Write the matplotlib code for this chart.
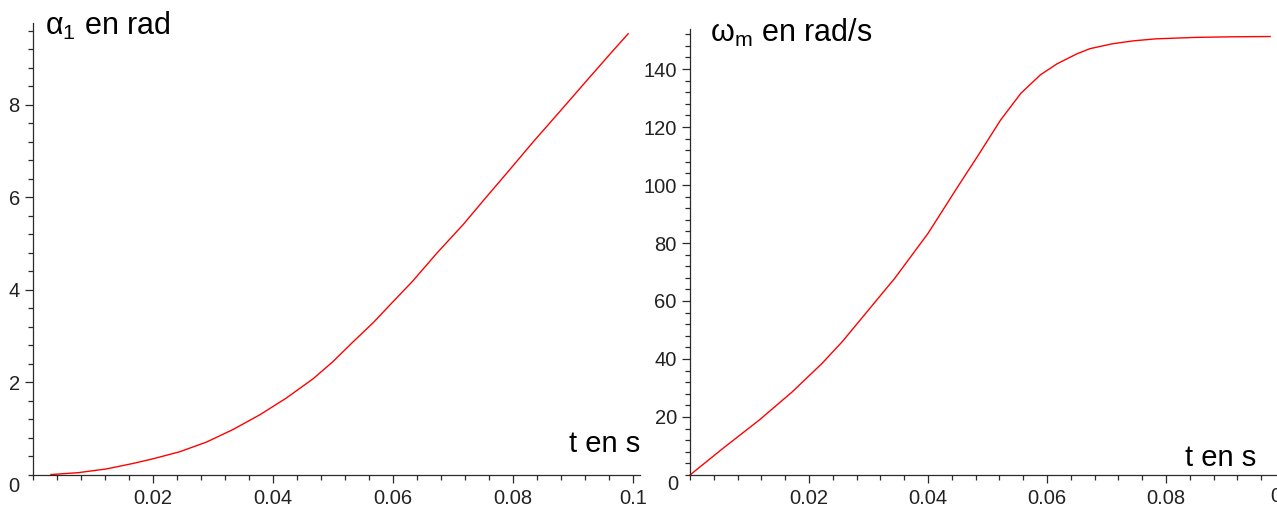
import matplotlib
matplotlib.use("Agg")
import matplotlib.pyplot as plt
from matplotlib.ticker import MultipleLocator, FixedLocator

plt.rcParams['font.family'] = ['Liberation Sans', 'DejaVu Sans']
plt.rcParams['mathtext.fontset'] = 'custom'
plt.rcParams['mathtext.rm'] = 'Liberation Sans'
plt.rcParams['mathtext.it'] = 'Liberation Sans'

# ---- data ----
t_alpha = [0.0030, 0.0075, 0.0122, 0.0167, 0.0200, 0.0244, 0.0289, 0.0333,
           0.0378, 0.0422, 0.0467, 0.0500, 0.0533, 0.0567, 0.0594, 0.0633,
           0.0673, 0.0717, 0.0756, 0.0789, 0.0834, 0.0878, 0.0923, 0.0967,
           0.0992]
alpha = [0.01, 0.05, 0.13, 0.25, 0.35, 0.50, 0.71, 0.98,
         1.30, 1.66, 2.08, 2.45, 2.87, 3.29, 3.66, 4.19,
         4.79, 5.41, 6.01, 6.51, 7.20, 7.85, 8.52, 9.17,
         9.53]

t_omega = [0.0, 0.00555, 0.01167, 0.0172, 0.0222, 0.0256, 0.0300, 0.0344,
           0.0400, 0.0450, 0.0483, 0.0522, 0.0556, 0.0589, 0.0617, 0.0650,
           0.0672, 0.0710, 0.0745, 0.0783, 0.0850, 0.0911, 0.0975]
omega = [0.0, 9.2, 19.0, 28.7, 38.5, 46.0, 56.9, 67.8,
         83.3, 99.4, 109.8, 122.4, 131.6, 138.0, 141.8, 145.2,
         147.0, 148.7, 149.7, 150.4, 150.9, 151.1, 151.2]

x_ticks = [0.02, 0.04, 0.06, 0.08, 0.1]
x_labels = ["0.02", "0.04", "0.06", "0.08", "0.1"]
alpha_ticks = [2, 4, 6, 8]
omega_ticks = [20, 40, 60, 80, 100, 120, 140]

W, H = 1277, 507
fig = plt.figure(figsize=(W / 100, H / 100), dpi=100)


def px_axes(x0, x1, ytop, ybot):
    return fig.add_axes([x0 / W, (H - ybot) / H, (x1 - x0) / W, (ybot - ytop) / H])


axc = '#2a2a2a'
tick_fs = 14.5


def style(ax, xmax, ymax, yticks, yminor):
    ax.set_xlim(0, xmax)
    ax.set_ylim(0, ymax)
    for s in ('top', 'right'):
        ax.spines[s].set_visible(False)
    for s in ('left', 'bottom'):
        ax.spines[s].set_color(axc)
        ax.spines[s].set_linewidth(0.9)
    ax.xaxis.set_major_locator(FixedLocator(x_ticks))
    ax.set_xticklabels(x_labels)
    ax.xaxis.set_minor_locator(MultipleLocator(0.004))
    ax.yaxis.set_major_locator(FixedLocator(yticks))
    ax.set_yticklabels([str(v) for v in yticks])
    ax.yaxis.set_minor_locator(MultipleLocator(yminor))
    ax.tick_params(which='major', length=6, width=0.9, color=axc,
                   labelsize=tick_fs, labelcolor='#222222')
    ax.tick_params(which='minor', length=3.5, width=0.9, color=axc)
    ax.tick_params(axis='y', which='both', pad=3.5)
    ax.tick_params(axis='x', which='both', pad=4)
    ax.patch.set_alpha(0)


# left panel
ax1 = px_axes(33, 640, 23, 475)
ax1.plot(t_alpha, alpha, color='#ff0000', lw=1.0, clip_on=False)
style(ax1, (640 - 33) / 6000, (475 - 23) / 46.3, alpha_ticks, 0.4)

# right panel
ax2 = px_axes(690, 1277, 29, 475)
ax2.plot(t_omega, omega, color='#ff0000', lw=1.0, clip_on=False)
style(ax2, (1277 - 690) / 5950, (475 - 29) / 2.9, omega_ticks, 4)


def ftext(x, y, s, **kw):
    fig.text(x / W, (H - y) / H, s, **kw)


# origin "0" labels
ftext(14, 486, "0", fontsize=tick_fs, ha='center', va='center', color='#222222')
ftext(673, 485, "0", fontsize=tick_fs, ha='center', va='center', color='#222222')
# partly visible 0.1 label at the right edge (cut off as in the reference)
ftext(1284, 496, "0.1", fontsize=tick_fs, ha='center', va='center', color='#222222')

# axis titles
ftext(45, 35, r"α$_1$ en rad", fontsize=22, ha='left', va='baseline')
ftext(710, 42, r"ω$_{\mathrm{m}}$ en rad/s", fontsize=22, ha='left', va='baseline')
ftext(640, 452, "t en s", fontsize=21, ha='right', va='baseline')
ftext(1256, 466, "t en s", fontsize=21, ha='right', va='baseline')

fig.savefig("out.png", dpi=100)
